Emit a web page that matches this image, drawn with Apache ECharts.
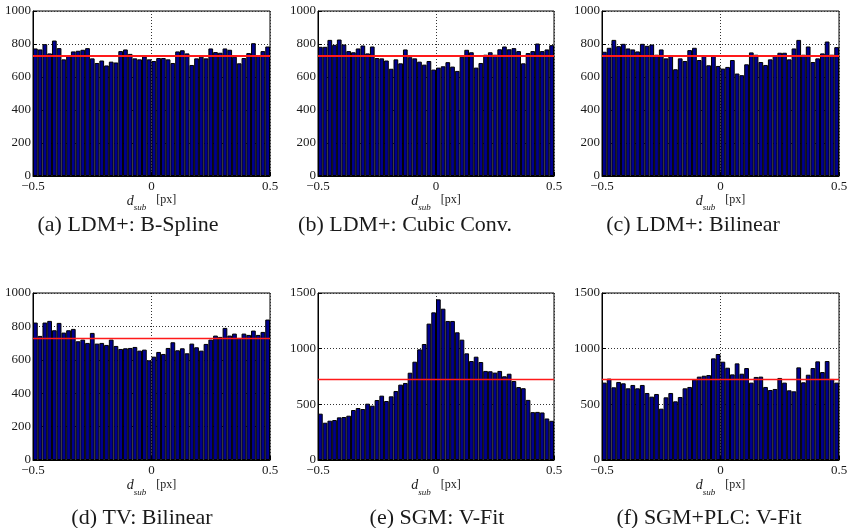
<!DOCTYPE html>
<html>
<head>
<meta charset="utf-8">
<script src="https://cdn.jsdelivr.net/npm/echarts@6/dist/echarts.min.js"></script>
<style>
    html, body { margin: 0; padding: 0; background: #fff; }
    #chart { width: 850px; height: 528px; }
</style>
</head>
<body>
<div id="chart"></div>
<script>
// histogram bins (centres, 50 bins over -0.5 .. 0.5 px)
var binCenters = [-0.49, -0.47, -0.45, -0.43, -0.41, -0.39, -0.37, -0.35, -0.33, -0.31,
    -0.29, -0.27, -0.25, -0.23, -0.21, -0.19, -0.17, -0.15, -0.13, -0.11,
    -0.09, -0.07, -0.05, -0.03, -0.01, 0.01, 0.03, 0.05, 0.07, 0.09,
    0.11, 0.13, 0.15, 0.17, 0.19, 0.21, 0.23, 0.25, 0.27, 0.29,
    0.31, 0.33, 0.35, 0.37, 0.39, 0.41, 0.43, 0.45, 0.47, 0.49];
var xTicks = [-0.5, 0, 0.5];

var ldmBSpline = [773, 767, 799, 743, 821, 775, 707, 733, 755, 759,
    765, 775, 713, 685, 700, 670, 693, 688, 757, 767,
    740, 713, 707, 725, 707, 697, 715, 715, 707, 685,
    755, 762, 743, 673, 713, 723, 713, 773, 751, 747,
    773, 765, 723, 683, 715, 745, 805, 727, 757, 785];
var ldmCubicConv = [783, 783, 825, 795, 827, 797, 757, 750, 773, 791,
    743, 785, 715, 713, 700, 650, 707, 683, 767, 720,
    713, 693, 675, 697, 645, 657, 665, 690, 663, 637,
    723, 765, 750, 657, 685, 735, 750, 735, 768, 785,
    768, 775, 757, 683, 745, 757, 803, 757, 767, 793];
var ldmBilinear = [753, 777, 825, 787, 801, 773, 767, 755, 801, 789,
    797, 735, 767, 713, 727, 647, 713, 697, 763, 777,
    703, 731, 671, 731, 667, 651, 661, 703, 621, 611,
    677, 749, 735, 691, 673, 707, 727, 747, 747, 707,
    773, 825, 735, 785, 691, 713, 743, 815, 735, 781];
var tvBilinear = [823, 743, 823, 833, 777, 821, 763, 777, 785, 711,
    721, 701, 761, 697, 701, 689, 721, 683, 665, 669,
    671, 677, 655, 661, 597, 619, 647, 635, 671, 705,
    657, 669, 639, 697, 675, 655, 695, 721, 745, 737,
    791, 745, 757, 731, 757, 749, 775, 749, 767, 841];
var sgmVFit = [416, 335, 353, 359, 383, 386, 398, 449, 467, 458,
    506, 488, 539, 578, 530, 572, 620, 677, 692, 784,
    883, 994, 1042, 1225, 1326, 1443, 1359, 1249, 1249, 1147,
    1081, 958, 889, 928, 880, 800, 797, 785, 800, 752,
    775, 710, 655, 645, 540, 430, 432, 427, 373, 352];
var sgmPlcVFit = [695, 731, 653, 701, 689, 644, 674, 644, 674, 602,
    569, 593, 461, 563, 602, 527, 566, 644, 656, 722,
    749, 757, 763, 913, 952, 883, 829, 769, 868, 775,
    826, 695, 746, 749, 656, 629, 638, 737, 695, 626,
    617, 832, 698, 766, 826, 886, 790, 889, 728, 695];

var panelData = [ldmBSpline, ldmCubicConv, ldmBilinear, tvBilinear, sgmVFit, sgmPlcVFit];
var captions = ["(a) LDM+: B-Spline", "(b) LDM+: Cubic Conv.", "(c) LDM+: Bilinear",
    "(d) TV: Bilinear", "(e) SGM: V-Fit", "(f) SGM+PLC: V-Fit"];
var yMaxes = [1000, 1000, 1000, 1000, 1500, 1500];
var yIntervals = [200, 200, 200, 200, 500, 500];
var meanLevels = [727, 727, 727, 727, 727, 727];

// layout (pixels)
var gridLefts = [33, 318, 602, 33, 318, 602];
var gridWidths = [237, 236, 237, 237, 236, 237];
var gridTops = [11, 11, 11, 293, 293, 293];
var gridHeights = [165, 165, 165, 167, 167, 167];
var captionX = [128, 405, 693, 142, 437, 709];
var captionY = [225, 225, 225, 518, 518, 518];
var redWidths = [2, 2, 2, 1.3, 1.3, 1.3];

var serif = "Liberation Serif";
var textColor = "#1a1a1a";
var dotted = { color: "#333", width: 1, type: [1, 2] };

function minusSign(v) {
    return String(v).replace("-", "\u2212");
}

var grids = [], xAxes = [], yAxes = [], series = [], graphics = [];

for (var i = 0; i < panelData.length; i++) {
    grids.push({
        left: gridLefts[i], top: gridTops[i], width: gridWidths[i], height: gridHeights[i],
        outerBoundsMode: "none", containLabel: false,
        show: true, borderColor: "#000", borderWidth: 1, backgroundColor: "#fff"
    });

    // hidden category axis carries the bars
    xAxes.push({
        type: "category", gridIndex: i, position: "bottom",
        data: binCenters, boundaryGap: true, show: false
    });
    // value axis for ticks, labels and the dotted 0 line
    xAxes.push({
        type: "value", gridIndex: i, position: "bottom",
        min: xTicks[0], max: xTicks[2], interval: 0.5,
        axisLine: { show: true, onZero: false, lineStyle: { color: "#000", width: 1 } },
        axisTick: { show: true, inside: true, length: 4, lineStyle: { color: "#000" } },
        axisLabel: {
            margin: 4, fontFamily: serif, fontSize: 13, color: textColor,
            formatter: minusSign
        },
        splitLine: { show: true, lineStyle: dotted },
        name: "{d|d}{s|sub}{u|[px]}",
        nameLocation: "middle",
        nameGap: i < 3 ? 11 : 14,
        nameTextStyle: {
            rich: {
                d: { fontFamily: serif, fontStyle: "italic", fontSize: 14, color: textColor },
                s: { fontFamily: serif, fontStyle: "italic", fontSize: 9, color: textColor, padding: [14, 0, 0, 0] },
                u: { fontFamily: serif, fontSize: 12, color: textColor, padding: [0, 0, 2, 10] }
            }
        }
    });

    yAxes.push({
        type: "value", gridIndex: i, position: "left",
        min: 0, max: yMaxes[i], interval: yIntervals[i],
        axisLine: { show: true, onZero: false, lineStyle: { color: "#000", width: 1 } },
        axisTick: { show: true, inside: true, length: 4, lineStyle: { color: "#000" } },
        axisLabel: {
            margin: 2, fontFamily: serif, fontSize: 13, color: textColor,
            formatter: function (v) { return String(v); }
        },
        splitLine: { show: true, lineStyle: dotted }
    });

    series.push({
        type: "bar",
        xAxisIndex: 2 * i,
        yAxisIndex: i,
        data: panelData[i],
        barWidth: "100%",
        itemStyle: { color: "#00008f", borderColor: "#000", borderWidth: 1 },
        silent: true,
        markLine: {
            silent: true,
            symbol: "none",
            label: { show: false },
            lineStyle: { color: "#ff1a1a", width: redWidths[i], type: "solid" },
            data: [{ yAxis: meanLevels[i] }]
        }
    });

    graphics.push({
        type: "text",
        x: captionX[i],
        y: captionY[i],
        style: {
            text: captions[i],
            font: "22px " + serif,
            fill: textColor,
            textAlign: "center",
            textVerticalAlign: "middle"
        }
    });
}

var chart = echarts.init(document.getElementById("chart"));
chart.setOption({
    animation: false,
    backgroundColor: "#fff",
    grid: grids,
    xAxis: xAxes,
    yAxis: yAxes,
    series: series,
    graphic: graphics
});
</script>
</body>
</html>
